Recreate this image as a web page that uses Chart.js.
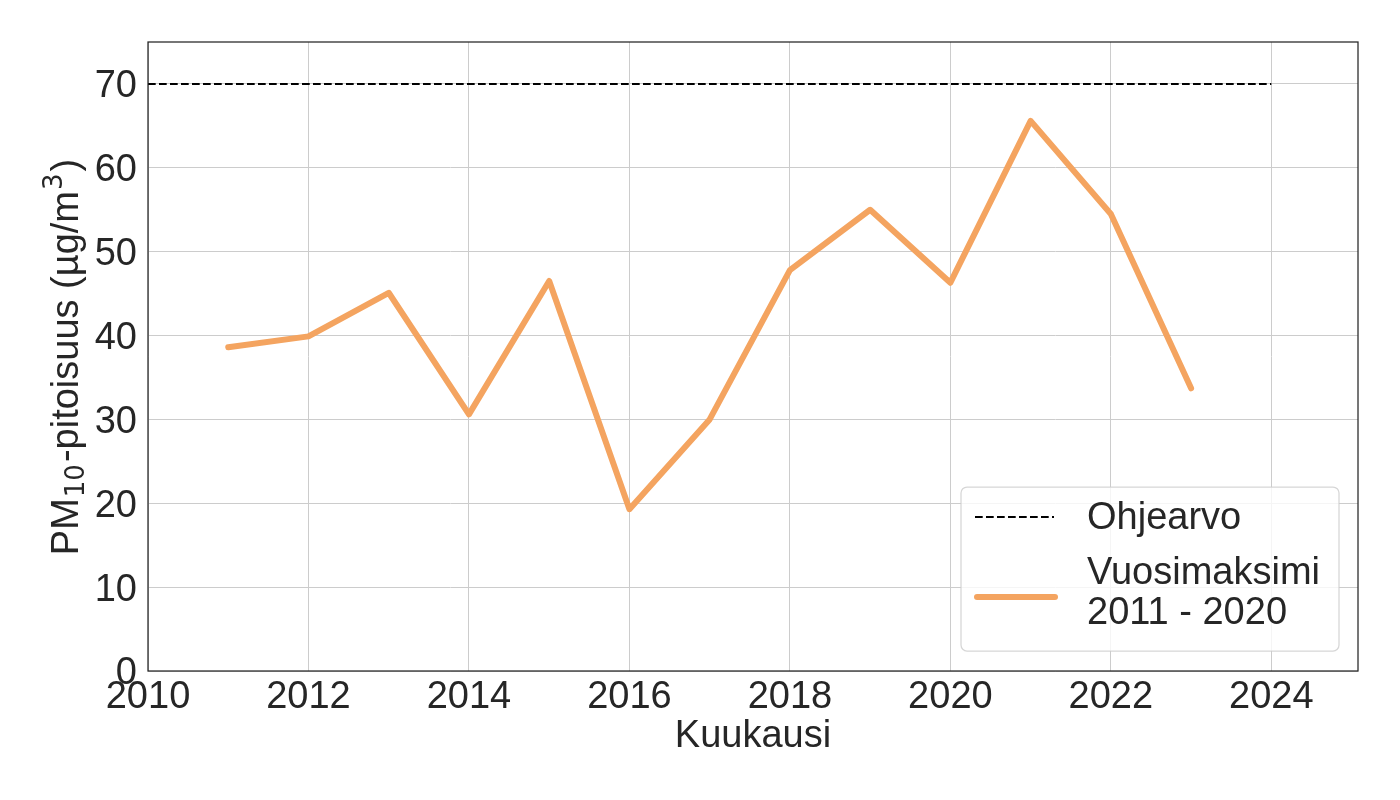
<!DOCTYPE html>
<html>
<head>
<meta charset="utf-8">
<script src="https://cdn.jsdelivr.net/npm/chart.js@4.4.1/dist/chart.umd.min.js"></script>
<style>
  html, body { margin: 0; padding: 0; background: #fff; }
  #wrap { width: 1400px; height: 800px; position: relative; }
</style>
</head>
<body>
<div id="wrap"><canvas id="pmChart" width="1400" height="800"></canvas></div>
<script>
/* ---------- data ---------- */
const years    = [2011, 2012, 2013, 2014, 2015, 2016, 2017, 2018, 2019, 2020, 2021, 2022, 2023];
const maxima   = [38.6, 39.9, 45.1, 30.6, 46.5, 19.3, 30.0, 47.8, 55.0, 46.3, 65.6, 54.5, 33.7];
const limitX   = [2010, 2024];
const limitY   = [70, 70];
const xTicks   = [2010, 2012, 2014, 2016, 2018, 2020, 2022, 2024];
const yTicks   = [0, 10, 20, 30, 40, 50, 60, 70];
const legendLabels = [['Ohjearvo'], ['Vuosimaksimi', '2011 - 2020']];

const FONT = '"Liberation Sans", Arial, sans-serif';
const MATH = '"DejaVu Sans", sans-serif';
const INK = '#262626';
const ORANGE = '#F4A460';
const DASH = [7.7, 3.3];

/* ---------- custom text, frame and legend ---------- */
const decorPlugin = {
  id: 'decor',
  afterDatasetsDraw(chart) {
    const { ctx, chartArea: a } = chart;
    ctx.save();
    // frame
    ctx.strokeStyle = INK;
    ctx.lineWidth = 1.25;
    ctx.strokeRect(a.left, a.top, a.right - a.left, a.bottom - a.top);

    // x title
    ctx.fillStyle = INK;
    ctx.font = '38px ' + FONT;
    ctx.textAlign = 'center';
    ctx.textBaseline = 'middle';
    ctx.fillText('Kuukausi', (a.left + a.right) / 2, 737);

    // y title with sub/superscript
    const parts = [
      { t: 'PM', f: '38px ' + FONT, dy: 0, gap: 1 },
      { t: '10', f: '26px ' + MATH, dy: 9, gap: 2 },
      { t: '-pitoisuus (µg/m', f: '38px ' + FONT, dy: 0, gap: 1 },
      { t: '3', f: '26px ' + MATH, dy: -13, gap: 2 },
      { t: ')', f: '38px ' + FONT, dy: 0, gap: 0 }
    ];
    ctx.translate(68, 357);
    ctx.rotate(-Math.PI / 2);
    ctx.textAlign = 'left';
    let total = 0;
    parts.forEach(p => { ctx.font = p.f; p.w = ctx.measureText(p.t).width + p.gap; total += p.w; });
    let px = -total / 2;
    parts.forEach(p => { ctx.font = p.f; ctx.fillText(p.t, px, p.dy); px += p.w; });
    ctx.restore();

    // legend
    ctx.save();
    const lx = 961, ly = 487, lw = 378, lh = 164;
    ctx.beginPath();
    ctx.roundRect(lx, ly, lw, lh, 6);
    ctx.fillStyle = 'rgba(255,255,255,0.8)';
    ctx.fill();
    ctx.strokeStyle = 'rgba(204,204,204,0.8)';
    ctx.lineWidth = 1.25;
    ctx.stroke();

    ctx.beginPath();
    ctx.setLineDash(DASH);
    ctx.strokeStyle = '#000';
    ctx.lineWidth = 2;
    ctx.moveTo(975, 517); ctx.lineTo(1054, 517);
    ctx.stroke();

    ctx.beginPath();
    ctx.setLineDash([]);
    ctx.strokeStyle = ORANGE;
    ctx.lineWidth = 6;
    ctx.lineCap = 'round';
    ctx.moveTo(977, 597); ctx.lineTo(1055, 597);
    ctx.stroke();

    ctx.fillStyle = INK;
    ctx.font = '38px ' + FONT;
    ctx.textAlign = 'left';
    ctx.textBaseline = 'middle';
    ctx.fillText(legendLabels[0][0], 1087, 519);
    ctx.fillText(legendLabels[1][0], 1087, 574);
    ctx.fillText(legendLabels[1][1], 1087, 614);
    ctx.restore();
  }
};

new Chart(document.getElementById('pmChart'), {
  type: 'line',
  data: {
    datasets: [
      {
        label: 'Vuosimaksimi 2011 - 2020',
        data: years.map((x, i) => ({ x, y: maxima[i] })),
        borderColor: ORANGE,
        borderWidth: 6,
        borderJoinStyle: 'round',
        borderCapStyle: 'round',
        pointRadius: 0,
        tension: 0,
        fill: false
      },
      {
        label: 'Ohjearvo',
        data: limitX.map((x, i) => ({ x, y: limitY[i] })),
        borderColor: '#000',
        borderWidth: 2,
        borderDash: DASH,
        pointRadius: 0,
        fill: false
      }
    ]
  },
  options: {
    responsive: false,
    animation: false,
    layout: { padding: { top: 42, right: 42, left: 0, bottom: 0 } },
    plugins: { legend: { display: false }, tooltip: { enabled: false } },
    scales: {
      x: {
        type: 'linear',
        min: 2010,
        max: 2025.08,
        afterBuildTicks: s => { s.ticks = xTicks.map(v => ({ value: v })); },
        afterFit: s => { s.height = 129; },
        ticks: {
          font: { size: 38, family: FONT },
          color: INK,
          padding: 4,
          maxRotation: 0,
          autoSkip: false,
          callback: v => String(v)
        },
        grid: { color: '#cccccc', lineWidth: 1, drawTicks: false },
        border: { display: false }
      },
      y: {
        min: 0,
        max: 75,
        afterBuildTicks: s => { s.ticks = yTicks.map(v => ({ value: v })); },
        afterFit: s => { s.width = 148; },
        ticks: {
          font: { size: 38, family: FONT },
          color: INK,
          padding: 11,
          labelOffset: 3,
          autoSkip: false
        },
        grid: { color: '#cccccc', lineWidth: 1, drawTicks: false },
        border: { display: false }
      }
    }
  },
  plugins: [decorPlugin]
});
</script>
</body>
</html>
